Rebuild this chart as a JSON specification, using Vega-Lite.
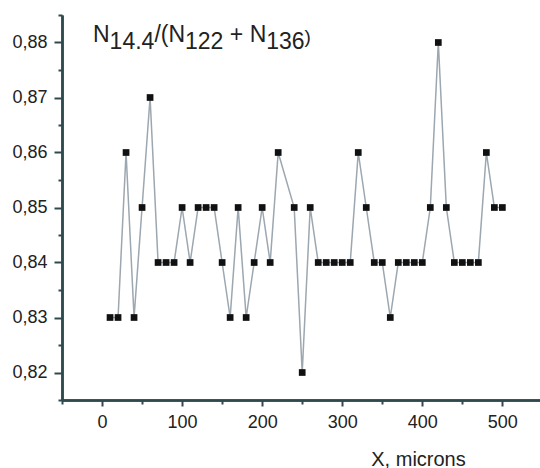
{
  "$schema": "https://vega.github.io/schema/vega-lite/v6.json",
  "width": 478,
  "height": 385,
  "autosize": "none",
  "padding": {"left": 62, "top": 15, "right": 0, "bottom": 68},
  "background": "white",
  "config": {
    "view": {"stroke": null},
    "font": "Liberation Sans",
    "axis": {"grid": false, "domainColor": "#2f4a4f", "domainWidth": 2.5, "tickColor": "#2f4a4f", "tickWidth": 2, "labelFont": "Liberation Sans", "labelFontSize": 18, "labelColor": "#222222", "titleFont": "Liberation Sans", "titleFontWeight": "normal", "titleColor": "#222222"}
  },
  "data": {
    "values": [
      {"x": 10, "r": 0.83}, {"x": 20, "r": 0.83}, {"x": 30, "r": 0.86}, {"x": 40, "r": 0.83},
      {"x": 50, "r": 0.85}, {"x": 60, "r": 0.87}, {"x": 70, "r": 0.84}, {"x": 80, "r": 0.84},
      {"x": 90, "r": 0.84}, {"x": 100, "r": 0.85}, {"x": 110, "r": 0.84}, {"x": 120, "r": 0.85},
      {"x": 130, "r": 0.85}, {"x": 140, "r": 0.85}, {"x": 150, "r": 0.84}, {"x": 160, "r": 0.83},
      {"x": 170, "r": 0.85}, {"x": 180, "r": 0.83}, {"x": 190, "r": 0.84}, {"x": 200, "r": 0.85},
      {"x": 210, "r": 0.84}, {"x": 220, "r": 0.86}, {"x": 240, "r": 0.85}, {"x": 250, "r": 0.82},
      {"x": 260, "r": 0.85}, {"x": 270, "r": 0.84}, {"x": 280, "r": 0.84}, {"x": 290, "r": 0.84},
      {"x": 300, "r": 0.84}, {"x": 310, "r": 0.84}, {"x": 320, "r": 0.86}, {"x": 330, "r": 0.85},
      {"x": 340, "r": 0.84}, {"x": 350, "r": 0.84}, {"x": 360, "r": 0.83}, {"x": 370, "r": 0.84},
      {"x": 380, "r": 0.84}, {"x": 390, "r": 0.84}, {"x": 400, "r": 0.84}, {"x": 410, "r": 0.85},
      {"x": 420, "r": 0.88}, {"x": 430, "r": 0.85}, {"x": 440, "r": 0.84}, {"x": 450, "r": 0.84},
      {"x": 460, "r": 0.84}, {"x": 470, "r": 0.84}, {"x": 480, "r": 0.86}, {"x": 490, "r": 0.85},
      {"x": 500, "r": 0.85}
    ]
  },
  "resolve": {"axis": {"x": "independent", "y": "independent"}},
  "layer": [
    {
      "mark": {"type": "line", "color": "#9ca7b0", "strokeWidth": 1.5},
      "encoding": {
        "x": {"field": "x", "type": "quantitative", "scale": {"domain": [-50, 547], "nice": false, "zero": false},
          "axis": {"orient": "bottom", "values": [0, 100, 200, 300, 400, 500], "tickSize": 6, "labelPadding": 7,
            "title": "X, microns", "titleFontSize": 20, "titleX": 356, "titleY": 65, "titleAlign": "center", "titleBaseline": "alphabetic"}},
        "y": {"field": "r", "type": "quantitative", "scale": {"domain": [0.815, 0.885], "nice": false, "zero": false},
          "axis": {"orient": "left", "values": [0.82, 0.83, 0.84, 0.85, 0.86, 0.87, 0.88], "tickSize": 8, "labelPadding": 7,
            "labelExpr": "replace(format(datum.value, '.2f'), '.', ',')", "title": null}}
      }
    },
    {
      "mark": {"type": "point", "shape": "square", "filled": true, "color": "#111111", "size": 45, "opacity": 1},
      "encoding": {
        "x": {"field": "x", "type": "quantitative",
          "axis": {"orient": "bottom", "values": [-50, 50, 150, 250, 350, 450], "tickSize": 4, "labels": false, "title": null}},
        "y": {"field": "r", "type": "quantitative",
          "axis": {"orient": "left", "values": [0.815, 0.825, 0.835, 0.845, 0.855, 0.865, 0.875, 0.885], "tickSize": 4, "labels": false, "title": null}}
      }
    },
    {"data": {"values": [{}]}, "mark": {"type": "text", "text": "N", "fontSize": 23, "align": "left", "baseline": "alphabetic", "color": "#222222"},
      "encoding": {"x": {"datum": -11.28, "type": "quantitative", "axis": null}, "y": {"datum": 0.88018, "type": "quantitative", "axis": null}}},
    {"data": {"values": [{}]}, "mark": {"type": "text", "text": "14.4", "fontSize": 23, "align": "left", "baseline": "alphabetic", "color": "#222222"},
      "encoding": {"x": {"datum": 9.45, "type": "quantitative", "axis": null}, "y": {"datum": 0.87873, "type": "quantitative", "axis": null}}},
    {"data": {"values": [{}]}, "mark": {"type": "text", "text": "/(N", "fontSize": 23, "align": "left", "baseline": "alphabetic", "color": "#222222"},
      "encoding": {"x": {"datum": 65.4, "type": "quantitative", "axis": null}, "y": {"datum": 0.88018, "type": "quantitative", "axis": null}}},
    {"data": {"values": [{}]}, "mark": {"type": "text", "text": "122", "fontSize": 23, "align": "left", "baseline": "alphabetic", "color": "#222222"},
      "encoding": {"x": {"datum": 103.6, "type": "quantitative", "axis": null}, "y": {"datum": 0.87873, "type": "quantitative", "axis": null}}},
    {"data": {"values": [{}]}, "mark": {"type": "text", "text": "+ N", "fontSize": 23, "align": "left", "baseline": "alphabetic", "color": "#222222"},
      "encoding": {"x": {"datum": 159.6, "type": "quantitative", "axis": null}, "y": {"datum": 0.88018, "type": "quantitative", "axis": null}}},
    {"data": {"values": [{}]}, "mark": {"type": "text", "text": "136", "fontSize": 23, "align": "left", "baseline": "alphabetic", "color": "#222222"},
      "encoding": {"x": {"datum": 205.0, "type": "quantitative", "axis": null}, "y": {"datum": 0.87873, "type": "quantitative", "axis": null}}},
    {"data": {"values": [{}]}, "mark": {"type": "text", "text": ")", "fontSize": 19, "align": "left", "baseline": "alphabetic", "color": "#222222"},
      "encoding": {"x": {"datum": 253.0, "type": "quantitative", "axis": null}, "y": {"datum": 0.87991, "type": "quantitative", "axis": null}}}
  ]
}
